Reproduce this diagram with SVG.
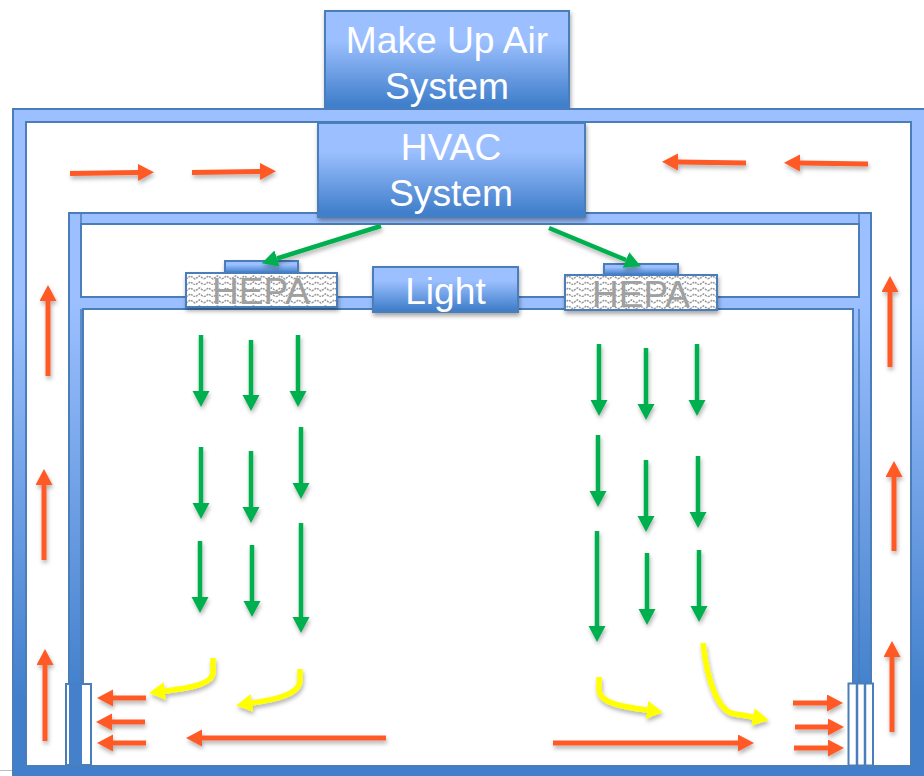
<svg xmlns="http://www.w3.org/2000/svg" width="924" height="776" viewBox="0 0 924 776">
<style>
.t{font-family:"Liberation Sans",Arial,sans-serif;font-size:37.200px;fill:#fff;text-anchor:middle}
.h{font-family:"Liberation Sans",Arial,sans-serif;font-size:37px;fill:#a0a0a0;text-anchor:middle}
.box{fill:url(#bg);stroke:#4a7ebb;stroke-width:2;filter:url(#sh)}
.f{fill:url(#fg);stroke:#4a7ebb;stroke-width:2}
.hp{fill:url(#wave);stroke:#4a7ebb;stroke-width:2;filter:url(#sh)}
.g{fill:none;stroke:#00b050;stroke-width:4.500;marker-end:url(#ag)}
.r{fill:none;stroke:#ff5a28;stroke-width:5;marker-end:url(#ar)}
.y{fill:none;stroke:#ffff00;stroke-width:5.500;marker-end:url(#ay)}
</style>
<defs>
<linearGradient id="bg" x1="0" y1="0" x2="0" y2="1"><stop offset="0.3" stop-color="#9cc0ff"/><stop offset="0.95" stop-color="#417fcb"/></linearGradient>
<linearGradient id="fg" gradientUnits="userSpaceOnUse" x1="0" y1="300" x2="0" y2="700"><stop offset="0" stop-color="#9cc0ff"/><stop offset="1" stop-color="#417fcb"/></linearGradient>
<pattern id="wave" patternUnits="userSpaceOnUse" width="18" height="12" x="186" y="273">
<rect width="18" height="12" fill="#fff"/>
<path d="M0 6L4.500 3L9 6L13.500 3L18 6M0 12L4.500 9L9 12L13.500 9L18 12" fill="none" stroke="#999" stroke-width="1.500" stroke-dasharray="2 1"/>
</pattern>
<filter id="sh" x="-10%" y="-20%" width="120%" height="150%"><feDropShadow dx="1" dy="3" stdDeviation="2" flood-color="#000" flood-opacity=".35"/></filter>
<filter id="sh2" filterUnits="userSpaceOnUse" x="0" y="0" width="924" height="776"><feDropShadow dx="1" dy="3" stdDeviation="2" flood-color="#000" flood-opacity=".3"/></filter>
<marker id="ag" markerUnits="userSpaceOnUse" markerWidth="18" markerHeight="18" refX="0" refY="8.500" orient="auto"><path d="M0 0L16 8.500L0 17Z" fill="#00b050"/></marker>
<marker id="ar" markerUnits="userSpaceOnUse" markerWidth="18" markerHeight="18" refX="0" refY="8.500" orient="auto"><path d="M0 0L16 8.500L0 17Z" fill="#ff5a28"/></marker>
<marker id="ay" markerUnits="userSpaceOnUse" markerWidth="18" markerHeight="20" refX="0" refY="9" orient="auto"><path d="M0 0L16 9L0 18Z" fill="#ffff00"/></marker>
</defs>
<rect width="924" height="776" fill="#fff"/>
<line x1="0" y1="770.500" x2="13" y2="770.500" stroke="#bbb"/>

<g id="make-up-air"><rect class="box" x="325" y="11" width="244" height="98"/>
<text class="t" x="447" y="53">Make Up Air</text><text class="t" x="447" y="99">System</text></g>

<g id="frame">
<path class="f" fill-rule="evenodd" d="M13 109H930V777H13ZM26 122V766H911V122Z"/>
<path class="f" d="M69 213H871V766H853V309H83V766H69Z M81 224V297H859V224Z" fill-rule="evenodd"/>
<path d="M81 213V224M81 309V766M859 213V224M859 309V766" stroke="#4a7ebb" stroke-width="1.500" fill="none"/>
</g>

<g id="left-grille"><rect x="66" y="684" width="25" height="81" fill="#fff" stroke="#4a7ebb" stroke-width="2"/>
<rect x="69" y="684" width="13" height="81" fill="#4580ca"/></g>
<g id="right-grille"><rect x="848.500" y="683.500" width="24.500" height="82" fill="#fff" stroke="#4a7ebb" stroke-width="2"/>
<path d="M857 684V765M865 684V765" stroke="#4a7ebb" stroke-width="2.500"/></g>

<g id="hvac"><rect class="box" x="318" y="123" width="267" height="94"/>
<text class="t" x="451" y="160">HVAC</text><text class="t" x="451" y="206">System</text></g>
<g id="light"><rect class="box" x="373" y="267" width="145" height="45"/><text class="t" x="445.500" y="304">Light</text></g>
<g id="hepa-left"><rect class="box" x="225" y="261" width="73" height="12"/><rect class="hp" x="186" y="273" width="151" height="34"/>
<text class="h" x="261" y="304">HEPA</text></g>
<g id="hepa-right"><rect class="box" x="604" y="264" width="74" height="11"/><rect class="hp" x="565" y="275" width="152" height="35"/>
<text class="h" x="641" y="307">HEPA</text></g>

<g id="conn" filter="url(#sh2)">
<path class="g" d="M381 226L277 258.500"/><path class="g" d="M549 228L626 260"/>
<path class="g" d="M201 335V391"/><path class="g" d="M251 340V395"/><path class="g" d="M298 335V391"/>
<path class="g" d="M201 447V503"/><path class="g" d="M251 451V507"/><path class="g" d="M301 427V483"/>
<path class="g" d="M200 541V597"/><path class="g" d="M252 545V601"/><path class="g" d="M301 523V617"/>
<path class="g" d="M599 344V400"/><path class="g" d="M646 348V404"/><path class="g" d="M697 344V400"/>
<path class="g" d="M598 435V491"/><path class="g" d="M646 460V516"/><path class="g" d="M698 456V512"/>
<path class="g" d="M597 531V626"/><path class="g" d="M647 553V609"/><path class="g" d="M699 550V606"/>

<path class="r" d="M70 173.500L138 172.500"/><path class="r" d="M192 172.500L260 171.500"/>
<path class="r" d="M746 163L678 162"/><path class="r" d="M868 164L800 163"/>
<path class="r" d="M48 376V301"/><path class="r" d="M44 560V485"/><path class="r" d="M45 741V665"/>
<path class="r" d="M890 367V292"/><path class="r" d="M894 551V477"/><path class="r" d="M892 732V657"/>
<path class="r" d="M146 698H113"/><path class="r" d="M145 722H112"/><path class="r" d="M146 743H113"/>
<path class="r" d="M386 738H202"/><path class="r" d="M553 743H738"/>
<path class="r" d="M793 703H827"/><path class="r" d="M795 727H828"/><path class="r" d="M794 748H828"/>

<path class="y" d="M213 658V672C213 684 190 688 165 691"/>
<path class="y" d="M300 669V680C300 694 278 699 252 703"/>
<path class="y" d="M599 677V690C600 704 625 707 647 710"/>
<path class="y" d="M703 643C707 680 718 712 735 714C742 715 748 716 753 717"/>
</g>
</svg>
